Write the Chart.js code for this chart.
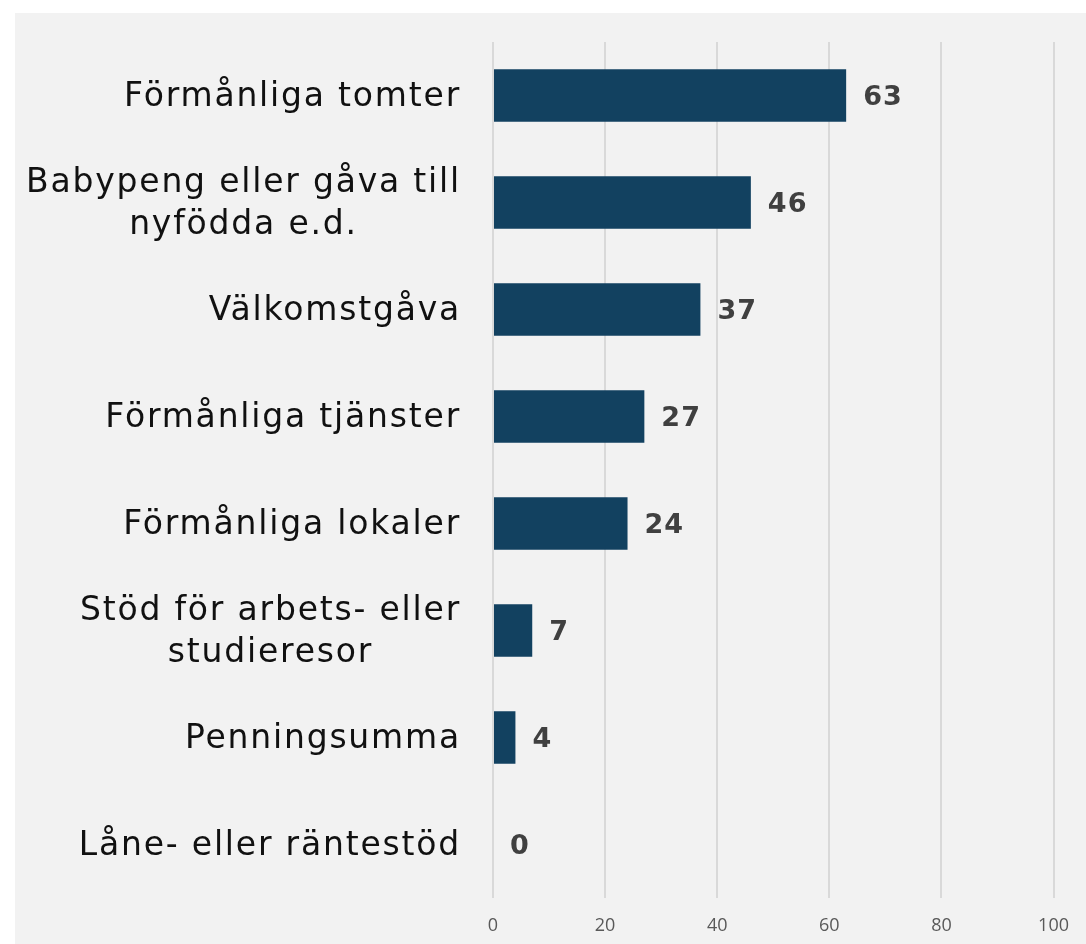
<!DOCTYPE html>
<html>
<head>
<meta charset="utf-8">
<script src="https://cdn.jsdelivr.net/npm/chart.js@4"></script>
<style>
    html, body { margin: 0; padding: 0; background: #ffffff; }
    #wrap { width: 1086px; height: 944px; }
</style>
</head>
<body>
<div id="wrap"><canvas id="bar"></canvas></div>
<script>
// Chart data
var categories = [
    ["Förmånliga tomter"],
    ["Babypeng eller gåva till", "nyfödda e.d."],
    ["Välkomstgåva"],
    ["Förmånliga tjänster"],
    ["Förmånliga lokaler"],
    ["Stöd för arbets- eller", "studieresor"],
    ["Penningsumma"],
    ["Låne- eller räntestöd"]
];
var values = [63, 46, 37, 27, 24, 7, 4, 0];
var tickValues = [0, 20, 40, 60, 80, 100];

var labelFont = "33px 'DejaVu Sans', sans-serif";

// Gray panel behind the chart
var panelPlugin = {
    id: 'panel',
    beforeDraw: function(chart) {
        var ctx = chart.ctx;
        ctx.save();
        ctx.fillStyle = '#f2f2f2';
        ctx.fillRect(15, 13, chart.width - 15, chart.height - 13);
        ctx.restore();
    }
};

// Category labels: block right-aligned, lines centered inside the block
var catLabelPlugin = {
    id: 'catLabels',
    afterDraw: function(chart) {
        var ctx = chart.ctx;
        var yScale = chart.scales.y;
        var right = chart.chartArea.left - 32;
        var lineH = 42;
        ctx.save();
        ctx.font = labelFont;
        ctx.letterSpacing = '1.8px';
        ctx.fillStyle = '#111111';
        ctx.textBaseline = 'middle';
        ctx.textAlign = 'center';
        categories.forEach(function(lines, i) {
            var y = yScale.getPixelForValue(i) + 2;
            var w = 0;
            lines.forEach(function(l) { w = Math.max(w, ctx.measureText(l).width); });
            var cx = right - w / 2;
            var y0 = y - (lines.length - 1) * lineH / 2;
            lines.forEach(function(l, k) {
                ctx.fillText(l, cx, y0 + k * lineH);
            });
        });
        ctx.restore();
    }
};

// Value labels after the bars
var valueLabelPlugin = {
    id: 'valueLabels',
    afterDatasetsDraw: function(chart) {
        var ctx = chart.ctx;
        var meta = chart.getDatasetMeta(0);
        ctx.save();
        ctx.font = "bold 27px 'DejaVu Sans', sans-serif";
        ctx.letterSpacing = '1px';
        ctx.fillStyle = '#404040';
        ctx.textAlign = 'left';
        ctx.textBaseline = 'middle';
        meta.data.forEach(function(bar, i) {
            ctx.fillText(values[i], bar.x + 17, bar.y + 2);
        });
        ctx.restore();
    }
};

var ctx = document.getElementById('bar').getContext('2d');
var myBarChart = new Chart(ctx, {
    type: 'bar',
    data: {
        labels: categories.map(function(c) { return c.join(' '); }),
        datasets: [{
            data: values,
            backgroundColor: '#124160',
            borderWidth: 0,
            barPercentage: 0.49,
            categoryPercentage: 1
        }]
    },
    options: {
        indexAxis: 'y',
        responsive: true,
        maintainAspectRatio: false,
        animation: false,
        layout: { padding: { top: 42, right: 28, bottom: 0, left: 0 } },
        plugins: {
            legend: { display: false },
            tooltip: { enabled: false }
        },
        scales: {
            x: {
                min: 0,
                max: 100,
                afterBuildTicks: function(scale) {
                    scale.ticks = tickValues.map(function(v) { return { value: v }; });
                },
                afterFit: function(scale) { scale.height = 46; },
                grid: { color: '#d9d9d9', lineWidth: 2, drawTicks: false },
                border: { display: false },
                ticks: {
                    padding: 17,
                    color: '#595959',
                    font: { family: "'Open Sans', sans-serif", size: 18 }
                }
            },
            y: {
                afterFit: function(scale) { scale.width = 493; },
                grid: { display: false },
                border: { display: false },
                ticks: { display: false }
            }
        }
    },
    plugins: [panelPlugin, catLabelPlugin, valueLabelPlugin]
});
</script>
</body>
</html>
